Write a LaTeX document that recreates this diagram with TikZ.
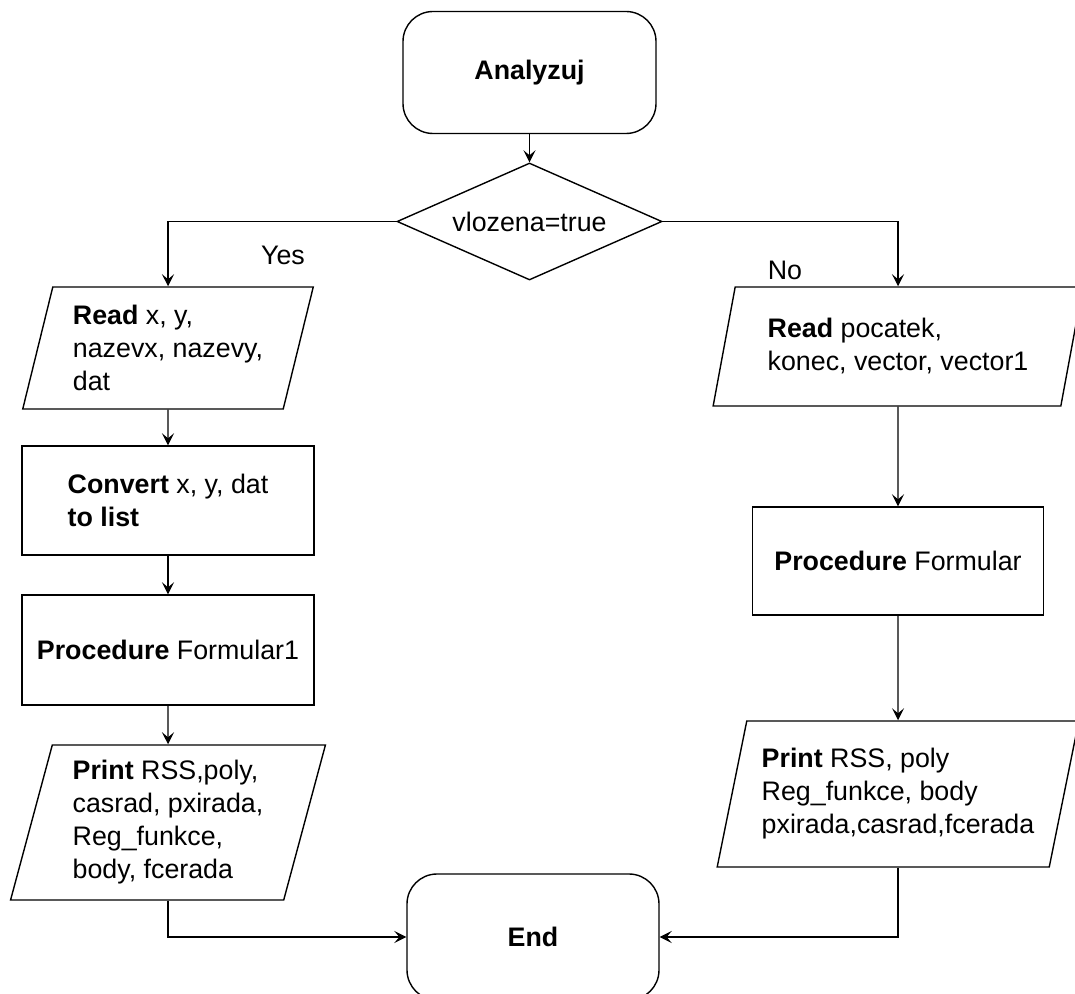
\documentclass[tikz,border=0pt]{standalone}
\usepackage{fontspec}
\setmainfont{Liberation Sans}
\usetikzlibrary{shapes.geometric,arrows.meta}
\begin{document}
\begin{tikzpicture}[x=.5pt,y=.5pt,line width=.7pt,
	every node/.style={font=\fontsize{13.4pt}{16.5pt}\selectfont},
	term/.style={draw,rectangle,rounded corners=15pt,minimum width=126.5pt,minimum height=61pt,font=\fontsize{13.4pt}{16.5pt}\selectfont\bfseries},
	decision/.style={draw,diamond,aspect=2.26,inner sep=0pt,minimum width=132.5pt,minimum height=58.5pt},
	io/.style={draw,trapezium,trapezium left angle=75,trapezium right angle=105,trapezium stretches=true,align=left},
	proc/.style={draw,rectangle,align=left},
	flow/.style={-{Stealth[length=6pt,width=6pt,inset=2.5pt]}}]
	\useasboundingbox (0,0) rectangle (1075,-994);
	\node (start) at (529.5,-72.5) [term] {Analyzuj};
	\node (dec) at (529.5,-221.5) [decision] {vlozena=true};
	% left branch
	\node (readL) at (168,-348) [io,minimum width=145.5pt,minimum height=61pt] {\textbf{Read} x, y,\\nazevx, nazevy,\\dat};
	\node (convL) at (168,-500.5) [proc,minimum width=146pt,minimum height=54.5pt] {\textbf{Convert} x, y, dat\\\textbf{to list}};
	\node (procL) at (168,-650) [proc,minimum width=146pt,minimum height=55pt] {\textbf{Procedure} Formular1};
	\node (printL) at (168,-822.5) [io,minimum width=157.5pt,minimum height=77.5pt] {\textbf{Print} RSS,poly,\\casrad, pxirada,\\Reg\_funkce,\\body, fcerada};
	% right branch
	\node (readR) at (898,-346.5) [io,minimum width=185pt,minimum height=59.5pt] {\textbf{Read} pocatek,\\konec, vector, vector1};
	\node (procR) at (898,-561) [proc,minimum width=145.5pt,minimum height=54pt] {\textbf{Procedure} Formular};
	\node (printR) at (898,-794) [io,minimum width=181pt,minimum height=73pt] {\textbf{Print} RSS, poly\\Reg\_funkce, body\\pxirada,casrad,fcerada};
	\node (stop) at (533,-937) [term,minimum width=126pt,minimum height=63pt] {End};
	\node (yes) at (283,-255) {Yes};
	\node (no) at (785,-270) {No};
	\draw[flow] (start) -- (dec);
	\draw[flow] (dec.west) -| (readL.north);
	\draw[flow] (dec.east) -| (readR.north);
	\draw[flow] (readL) -- (convL);
	\draw[flow] (convL) -- (procL);
	\draw[flow] (procL) -- (printL);
	\draw[flow] (readR) -- (procR);
	\draw[flow] (procR) -- (printR);
	\draw[flow] (printL.south) |- (stop.west);
	\draw[flow] (printR.south) |- (stop.east);
\end{tikzpicture}
\end{document}
